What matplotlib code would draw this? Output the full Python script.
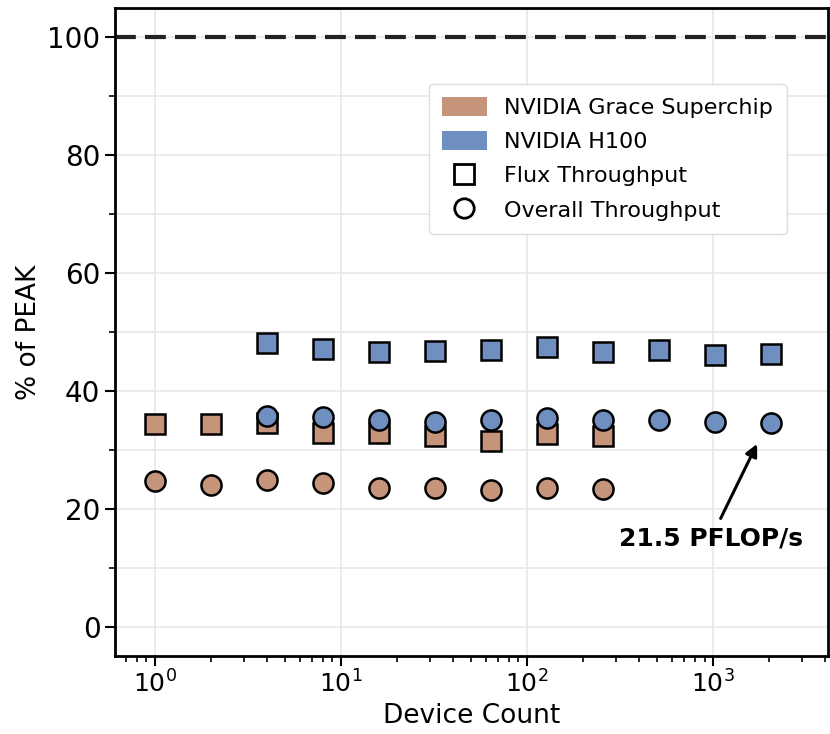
import matplotlib
matplotlib.use("Agg")
import matplotlib.pyplot as plt
from matplotlib.patches import Patch
from matplotlib.lines import Line2D
from matplotlib.ticker import MultipleLocator

# Device counts
grace_devices = [1, 2, 4, 8, 16, 32, 64, 128, 256]
h100_devices = [4, 8, 16, 32, 64, 128, 256, 512, 1024, 2048]

# Percent of peak throughput
grace_flux = [34.3, 34.3, 34.6, 32.8, 32.9, 32.3, 31.5, 32.7, 32.3]
grace_overall = [24.7, 24.1, 24.8, 24.3, 23.6, 23.6, 23.1, 23.6, 23.3]
h100_flux = [48.1, 47.1, 46.6, 46.8, 46.9, 47.4, 46.6, 46.9, 46.1, 46.3]
h100_overall = [35.7, 35.5, 35.0, 34.7, 35.0, 35.4, 35.0, 35.0, 34.7, 34.5]

grace_color = "#C5947A"
h100_color = "#6E8FC0"

fig = plt.figure(figsize=(8.3, 7.34), dpi=100)
ax = fig.add_axes([115 / 830, 1 - 656 / 734, 713 / 830, 648 / 734])

mk = dict(linestyle="none", markeredgecolor="black", markeredgewidth=1.8, zorder=3)
ax.plot(grace_devices, grace_flux, marker="s", markersize=14.5, color=grace_color, **mk)
ax.plot(grace_devices, grace_overall, marker="o", markersize=14.5, color=grace_color, **mk)
ax.plot(h100_devices, h100_flux, marker="s", markersize=14.5, color=h100_color, **mk)
ax.plot(h100_devices, h100_overall, marker="o", markersize=14.5, color=h100_color, **mk)

ax.axhline(100, color="#222222", linestyle=(0, (5, 2.2)), linewidth=3, zorder=2)

ax.set_xscale("log")
ax.set_xlim(0.61, 4150)
ax.set_ylim(-5, 105)
ax.yaxis.set_major_locator(MultipleLocator(20))
ax.yaxis.set_minor_locator(MultipleLocator(10))

ax.grid(True, which="major", color="#e8e8e8", linewidth=1.2, zorder=0)
ax.grid(True, which="minor", axis="y", color="#e8e8e8", linewidth=1.2, zorder=0)
ax.set_axisbelow(True)

for sp in ax.spines.values():
    sp.set_linewidth(2)
    sp.set_color("black")
ax.tick_params(axis="both", which="major", length=7, width=1.5, labelsize=20)
ax.tick_params(axis="both", which="minor", length=4, width=1.2)
ax.tick_params(axis="x", labelsize=18)

ax.set_xlabel("Device Count", fontsize=19)
ax.set_ylabel("% of PEAK", fontsize=19)

ax.annotate("21.5 PFLOP/s", xy=(1725, 31.0), xytext=(975, 15.0),
            fontsize=18, fontweight="bold", ha="center", va="center",
            arrowprops=dict(arrowstyle="-|>", color="black", lw=2.2,
                            mutation_scale=18, shrinkA=4, shrinkB=0))

handles = [
    Patch(facecolor=grace_color, label="NVIDIA Grace Superchip"),
    Patch(facecolor=h100_color, label="NVIDIA H100"),
    Line2D([], [], marker="s", linestyle="none", markersize=14, markerfacecolor="white",
           markeredgecolor="black", markeredgewidth=2, label="Flux Throughput"),
    Line2D([], [], marker="o", linestyle="none", markersize=14, markerfacecolor="white",
           markeredgecolor="black", markeredgewidth=2, label="Overall Throughput"),
]
ax.legend(handles=handles, loc="upper right", bbox_to_anchor=(0.942, 0.883),
          borderaxespad=0, fontsize=16, labelspacing=0.6, handlelength=2.0,
          handleheight=0.9, frameon=True, framealpha=1, edgecolor="#dddddd",
          borderpad=0.6)

fig.savefig("out.png", dpi=100)
